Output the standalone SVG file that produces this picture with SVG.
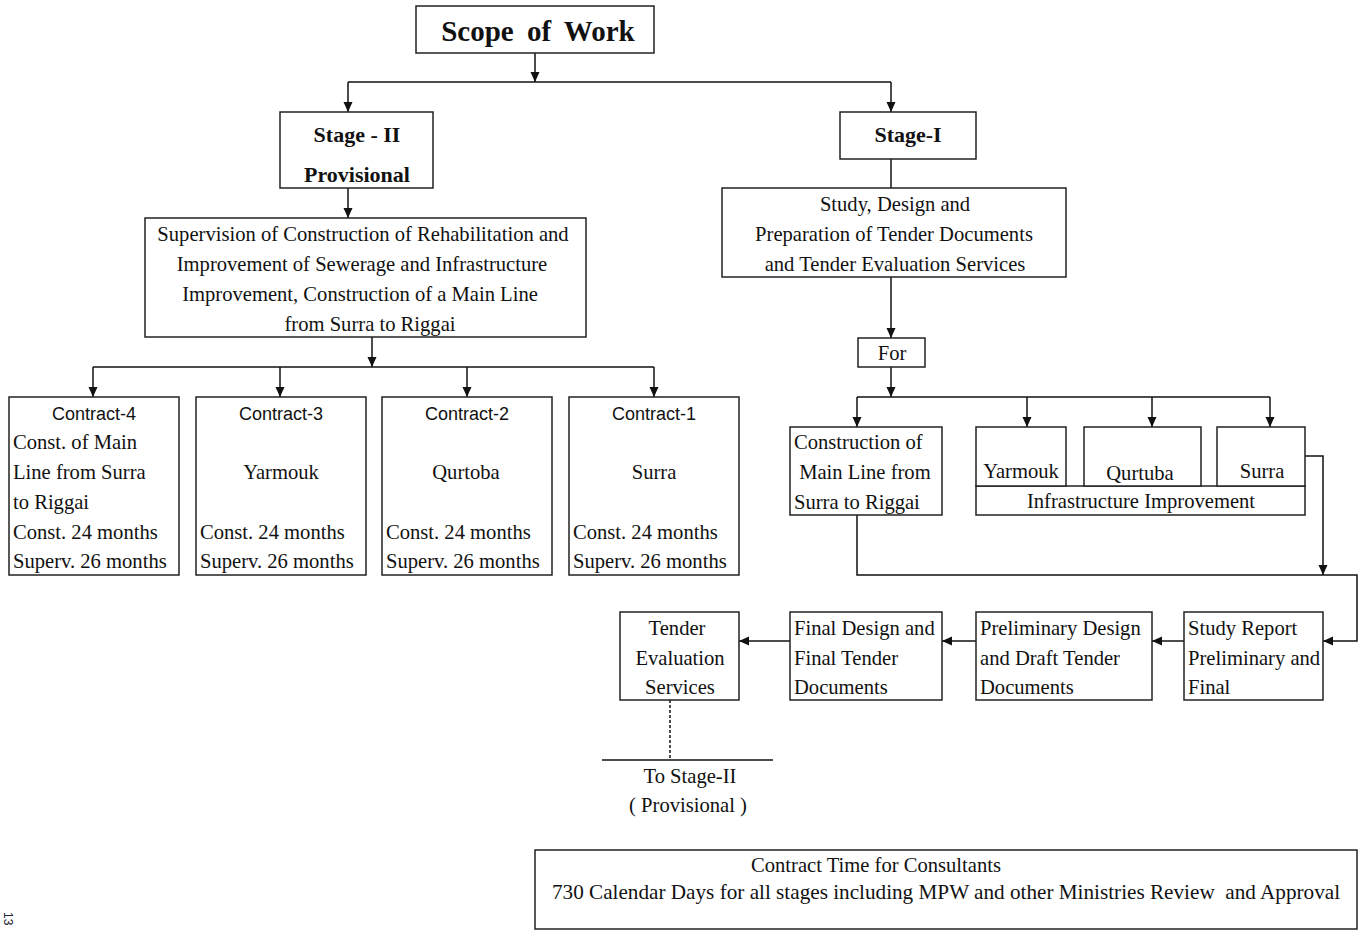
<svg xmlns="http://www.w3.org/2000/svg" width="1360" height="930" viewBox="0 0 1360 930">
<defs>
<marker id="arr" markerUnits="userSpaceOnUse" markerWidth="10" markerHeight="10" refX="10" refY="5" orient="auto">
<path d="M0,0.5 L10,5 L0,9.5 z" fill="#111"/>
</marker>
<style>
.box{fill:#fff;stroke:#222;stroke-width:1.5}
.t{font-family:"Liberation Serif","Times New Roman",serif;font-size:20.6px;fill:#111}
.c{text-anchor:middle}
.b{font-weight:bold;font-size:22px}
.s{font-family:"Liberation Sans",Arial,sans-serif;font-size:18px;fill:#111;text-anchor:middle}
.ln{fill:none;stroke:#111;stroke-width:1.5}
.ar{fill:none;stroke:#111;stroke-width:1.5;marker-end:url(#arr)}
</style>
</defs>
<rect width="1360" height="930" fill="#fff"/>

<g id="connectors">
<path class="ar" d="M535,53 V82"/>
<path class="ln" d="M348,82 H891"/>
<path class="ar" d="M348,82 V112"/>
<path class="ar" d="M891,82 V112"/>
<path class="ar" d="M348,188 V218"/>
<path class="ar" d="M372,337 V367"/>
<path class="ln" d="M93,367 H654"/>
<path class="ar" d="M93,367 V397"/>
<path class="ar" d="M280,367 V397"/>
<path class="ar" d="M467,367 V397"/>
<path class="ar" d="M654,367 V397"/>
<path class="ln" d="M891,159 V188"/>
<path class="ar" d="M891,277 V338"/>
<path class="ar" d="M891,367 V397"/>
<path class="ln" d="M857,397 H1270"/>
<path class="ar" d="M857,397 V427"/>
<path class="ar" d="M1027,397 V427"/>
<path class="ar" d="M1152,397 V427"/>
<path class="ar" d="M1270,397 V427"/>
<path class="ar" d="M1305,456 H1323 V575"/>
<path class="ar" d="M857,515 V575 H1357 V641 H1323"/>
<path class="ar" d="M1184,641 H1152"/>
<path class="ar" d="M976,641 H942"/>
<path class="ar" d="M790,641 H739"/>
<path class="ln" d="M670,700 V760" stroke-dasharray="3,2" stroke-width="1"/>
<path class="ln" d="M602,760 H773"/>
</g>

<g id="scope">
<rect class="box" x="416" y="6" width="238" height="47"/>
<text class="t c" x="538" y="41" style="font-size:29px;font-weight:bold;word-spacing:6px">Scope of Work</text>
</g>

<g id="stage2">
<rect class="box" x="280" y="112" width="153" height="76"/>
<text class="t c b" x="357" y="142">Stage - II</text>
<text class="t c b" x="357" y="182">Provisional</text>
</g>

<g id="supervision">
<rect class="box" x="145" y="218" width="441" height="119"/>
<text class="t c" x="363" y="241">Supervision of Construction of Rehabilitation and</text>
<text class="t c" x="362" y="271">Improvement of Sewerage and Infrastructure</text>
<text class="t c" x="360" y="301">Improvement, Construction of a Main Line</text>
<text class="t c" x="370" y="331">from Surra to Riggai</text>
</g>

<g id="contract4">
<rect class="box" x="9" y="397" width="170" height="178"/>
<text class="s" x="94" y="420">Contract-4</text>
<text class="t" x="13" y="449">Const. of Main</text>
<text class="t" x="13" y="479">Line from Surra</text>
<text class="t" x="13" y="509">to Riggai</text>
<text class="t" x="13" y="539">Const. 24 months</text>
<text class="t" x="13" y="568">Superv. 26 months</text>
</g>

<g id="contract3">
<rect class="box" x="196" y="397" width="170" height="178"/>
<text class="s" x="281" y="420">Contract-3</text>
<text class="t c" x="281" y="479">Yarmouk</text>
<text class="t" x="200" y="539">Const. 24 months</text>
<text class="t" x="200" y="568">Superv. 26 months</text>
</g>

<g id="contract2">
<rect class="box" x="382" y="397" width="170" height="178"/>
<text class="s" x="467" y="420">Contract-2</text>
<text class="t c" x="466" y="479">Qurtoba</text>
<text class="t" x="386" y="539">Const. 24 months</text>
<text class="t" x="386" y="568">Superv. 26 months</text>
</g>

<g id="contract1">
<rect class="box" x="569" y="397" width="170" height="178"/>
<text class="s" x="654" y="420">Contract-1</text>
<text class="t c" x="654" y="479">Surra</text>
<text class="t" x="573" y="539">Const. 24 months</text>
<text class="t" x="573" y="568">Superv. 26 months</text>
</g>

<g id="stage1">
<rect class="box" x="840" y="112" width="136" height="47"/>
<text class="t c b" x="908" y="142">Stage-I</text>
</g>

<g id="study">
<rect class="box" x="722" y="188" width="344" height="89"/>
<text class="t c" x="895" y="211">Study, Design and</text>
<text class="t c" x="894" y="241">Preparation of Tender Documents</text>
<text class="t c" x="895" y="271">and Tender Evaluation Services</text>
</g>

<g id="for">
<rect class="box" x="858" y="338" width="67" height="29"/>
<text class="t c" x="892" y="360">For</text>
</g>

<g id="construction">
<rect class="box" x="790" y="427" width="152" height="88"/>
<text class="t" x="794" y="449">Construction of</text>
<text class="t" x="794" y="479" xml:space="preserve"> Main Line from</text>
<text class="t" x="794" y="509">Surra to Riggai</text>
</g>

<g id="infrastructure">
<rect class="box" x="976" y="486" width="329" height="29"/>
<text class="t c" x="1141" y="508">Infrastructure Improvement</text>
</g>

<g id="yarmouk">
<rect class="box" x="976" y="427" width="90" height="59"/>
<text class="t c" x="1021" y="478">Yarmouk</text>
</g>

<g id="qurtuba">
<rect class="box" x="1084" y="427" width="117" height="59"/>
<text class="t c" x="1140" y="480">Qurtuba</text>
</g>

<g id="surra">
<rect class="box" x="1217" y="427" width="88" height="59"/>
<text class="t c" x="1262" y="478">Surra</text>
</g>

<g id="tender-eval">
<rect class="box" x="620" y="612" width="119" height="88"/>
<text class="t c" x="677" y="635">Tender</text>
<text class="t c" x="680" y="665">Evaluation</text>
<text class="t c" x="680" y="694">Services</text>
</g>

<g id="final-design">
<rect class="box" x="790" y="612" width="152" height="88"/>
<text class="t" x="794" y="635">Final Design and</text>
<text class="t" x="794" y="665">Final Tender</text>
<text class="t" x="794" y="694">Documents</text>
</g>

<g id="preliminary">
<rect class="box" x="976" y="612" width="176" height="88"/>
<text class="t" x="980" y="635">Preliminary Design</text>
<text class="t" x="980" y="665">and Draft Tender</text>
<text class="t" x="980" y="694">Documents</text>
</g>

<g id="study-report">
<rect class="box" x="1184" y="612" width="139" height="88"/>
<text class="t" x="1188" y="635">Study Report</text>
<text class="t" x="1188" y="665">Preliminary and</text>
<text class="t" x="1188" y="694">Final</text>
</g>

<g id="to-stage2">
<text class="t c" x="690" y="783">To Stage-II</text>
<text class="t c" x="688" y="812">( Provisional )</text>
</g>

<g id="contract-time">
<rect class="box" x="535" y="850" width="822" height="79"/>
<text class="t c" x="876" y="872">Contract Time for Consultants</text>
<text class="t c" x="946" y="899" style="font-size:21.2px" xml:space="preserve">730 Calendar Days for all stages including MPW and other Ministries Review  and Approval</text>
</g>

<text x="4" y="912" transform="rotate(90 4 912)" font-family="Liberation Sans, Arial, sans-serif" font-size="12" fill="#223">13</text>
</svg>
